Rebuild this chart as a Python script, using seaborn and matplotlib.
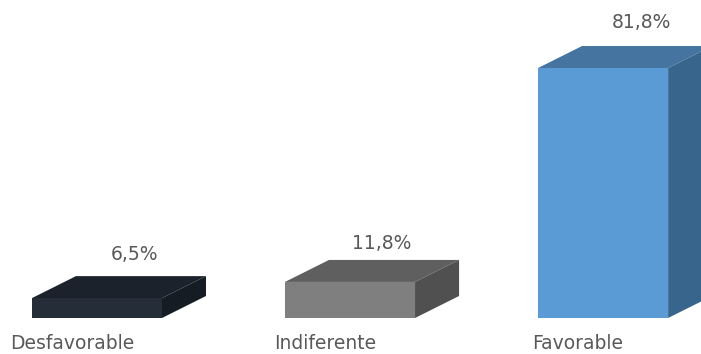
import matplotlib
matplotlib.use("Agg")
import matplotlib.pyplot as plt
import pandas as pd
import seaborn as sns
from matplotlib.patches import Polygon

categorias = ["Desfavorable", "Indiferente", "Favorable"]
valores = [6.5, 11.8, 81.8]
etiquetas = ["6,5%", "11,8%", "81,8%"]
color_frente = ["#252d38", "#7f7f7f", "#5b9bd5"]
color_arriba = ["#1b222b", "#5f5f5f", "#44749f"]
color_lado = ["#161c24", "#505050", "#38658c"]

df = pd.DataFrame({"categoria": categorias, "valor": valores})

sns.set_theme(style="white")
plt.rcParams["font.family"] = ["DejaVu Sans"]

fig = plt.figure(figsize=(7.01, 3.54), dpi=100)
ax = fig.add_axes([0, 0, 1, 1])

sns.barplot(data=df, x="categoria", y="valor", hue="categoria", palette=color_frente,
            width=0.514, saturation=1, legend=False, ax=ax, zorder=3)

ax.set_xlim(-0.383, 2.387)
ax.set_ylim(-11.78, 104.06)
ax.axis("off")

# profundidad de la caja 3D
prof_x = 0.174
prof_y = 7.2

# desplazamiento de cada valor respecto a la caja, en pixeles
desp_x = [-6, -12, -6]
desp_y = [22, 16, 24]

for i, barra in enumerate(ax.patches):
    x0 = barra.get_x()
    x1 = x0 + barra.get_width()
    alto = barra.get_height()
    barra.set_edgecolor("none")

    arriba = [(x0, alto), (x1, alto), (x1 + prof_x, alto + prof_y), (x0 + prof_x, alto + prof_y)]
    lado = [(x1, 0), (x1 + prof_x, prof_y), (x1 + prof_x, alto + prof_y), (x1, alto)]
    ax.add_patch(Polygon(arriba, facecolor=color_arriba[i], edgecolor="none", zorder=2))
    ax.add_patch(Polygon(lado, facecolor=color_lado[i], edgecolor="none", zorder=2))

    ax.annotate(etiquetas[i], (x0 + barra.get_width() / 2 + prof_x, alto + prof_y),
                xytext=(desp_x[i], desp_y[i]), textcoords="offset pixels", ha="center", va="center",
                fontsize=13.5, color="#595959")

    # etiqueta de categoria pegada al borde inferior
    ax.annotate(categorias[i], (i, 0), xytext=(-25, -31), textcoords="offset pixels",
                ha="center", va="baseline", fontsize=13.5, color="#595959", annotation_clip=False)

fig.savefig("out.png", dpi=100)
